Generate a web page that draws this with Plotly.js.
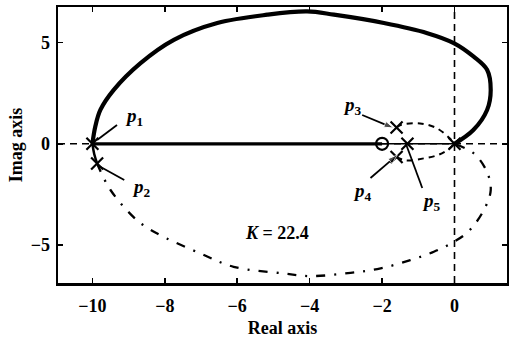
<!DOCTYPE html>
<html>
<head>
<meta charset="utf-8">
<script src="https://cdn.plot.ly/plotly-3.0.1.min.js"></script>
<style>
  html, body { margin: 0; padding: 0; background: #fff; }
  #plot { width: 509px; height: 338px; }
</style>
</head>
<body>
<div id="plot"></div>
<script>
// Root locus branches (real part, imaginary part)
const upperBranchRe = [0, 0.52, 0.9, 1.0, 0.9, 0.53, -0.02, -0.75, -1.95, -3.33, -4.07, -5.17, -6.55, -7.75, -8.67, -9.41, -9.78, -9.92, -10];
const upperBranchIm = [0, 0.68, 1.67, 2.66, 3.65, 4.3, 4.97, 5.46, 5.96, 6.37, 6.53, 6.37, 5.96, 5.13, 3.98, 2.66, 1.67, 0.85, 0];

const lowerBranchRe = [-9.87, -9.5, -8.77, -8.22, -7.02, -6.1, -4.72, -3.98, -2.87, -2.04, -1.22, -0.57, -0.02, 0.4, 0.81, 1.0, 0.9, 0.55, 0];
const lowerBranchIm = [-0.97, -2.28, -3.77, -4.42, -5.41, -6.07, -6.4, -6.53, -6.37, -6.15, -5.74, -5.33, -4.84, -4.3, -3.27, -2.3, -1.4, -0.5, 0];

const startSegRe = [-10, -9.95, -9.87];
const startSegIm = [0, -0.5, -0.97];

const p3LoopRe = [-1.6, -1.45, -0.95, -0.5, -0.15, 0];
const p3LoopIm = [0.8, 0.95, 1.0, 0.78, 0.3, 0];
const p4LoopRe = [-1.6, -1.35, -0.85, -0.45, -0.15, 0];
const p4LoopIm = [-0.65, -0.82, -0.72, -0.55, -0.25, 0];

const realAxisThickRe = [-10, -2];
const realAxisThinRe = [-2, 0];

// Poles and zero
const polesRe = [-10, -9.87, -1.6, -1.6, -1.3, 0];
const polesIm = [0, -0.97, 0.8, -0.65, 0, 0];
const zeroRe = [-2];
const zeroIm = [0];

// Pole labels with their pointer lines (tail -> head)
const poleLabels = ['p1', 'p2', 'p3', 'p4', 'p5'];
const labelTextX = [-8.85, -8.65, -2.83, -2.55, -0.64];
const labelTextY = [1.3, -2.2, 1.85, -2.4, -2.88];
const labelTailX = [-9.32, -9.12, -2.55, -2.32, -0.89];
const labelTailY = [0.93, -1.79, 1.42, -1.69, -2.18];
const labelHeadX = [-9.87, -9.87, -1.68, -1.58, -1.35];
const labelHeadY = [0.19, -1.05, 0.78, -0.55, 0.04];
const labelHasArrow = [false, false, true, true, false];

const gainText = 'K = 22.4';
const gainX = -4.9, gainY = -4.42;

const xTicks = [-10, -8, -6, -4, -2, 0];
const yTicks = [-5, 0, 5];
const xRange = [-10.95, 1.45];
const yRange = [-6.87, 6.75];

const serif = 'Liberation Serif, Times New Roman, serif';

const traces = [
  // dashed coordinate axes
  { x: xRange, y: [0, 0], mode: 'lines', line: { color: '#000', width: 1.6, dash: '7px,5px' }, hoverinfo: 'skip' },
  { x: [0, 0], y: yRange, mode: 'lines', line: { color: '#000', width: 1.6, dash: '7px,5px' }, hoverinfo: 'skip' },
  // real-axis locus
  { x: realAxisThickRe, y: [0, 0], mode: 'lines', line: { color: '#000', width: 3.2 } },
  { x: realAxisThinRe, y: [0, 0], mode: 'lines', line: { color: '#000', width: 1.6 } },
  // main loop
  { x: upperBranchRe, y: upperBranchIm, mode: 'lines', line: { color: '#000', width: 4.2, shape: 'spline', smoothing: 1 } },
  { x: startSegRe, y: startSegIm, mode: 'lines', line: { color: '#000', width: 2.5, shape: 'spline' } },
  { x: lowerBranchRe, y: lowerBranchIm, mode: 'lines', line: { color: '#000', width: 2.3, dash: '9px,9px,2px,9px', shape: 'spline', smoothing: 1 } },
  // complex pole branches
  { x: p3LoopRe, y: p3LoopIm, mode: 'lines', line: { color: '#000', width: 2, dash: '6px,5px', shape: 'spline' } },
  { x: p4LoopRe, y: p4LoopIm, mode: 'lines', line: { color: '#000', width: 2, dash: '6px,5px', shape: 'spline' } },
  // poles and zero
  { x: polesRe, y: polesIm, mode: 'markers', marker: { symbol: 'x-thin-open', size: 12, color: '#000', line: { color: '#000', width: 2.2 } } },
  { x: zeroRe, y: zeroIm, mode: 'markers', marker: { symbol: 'circle-open', size: 12, color: '#000', line: { color: '#000', width: 2.2 } } }
];

// pointer lines from each label to its pole
poleLabels.forEach((lab, i) => {
  traces.push({
    x: [labelTailX[i], labelHeadX[i]], y: [labelTailY[i], labelHeadY[i]],
    mode: labelHasArrow[i] ? 'lines+markers' : 'lines',
    line: { color: '#000', width: 1.8 },
    marker: { symbol: 'arrow', angleref: 'previous', size: [0, 10], color: '#000' },
    hoverinfo: 'skip'
  });
});

const annotations = [];
poleLabels.forEach((lab, i) => {
  annotations.push({
    x: labelTextX[i], y: labelTextY[i], xref: 'x', yref: 'y', showarrow: false,
    text: '<i>' + lab[0] + '</i><sub>' + lab.slice(1) + '</sub>',
    font: { family: serif, size: 19, color: '#000', weight: 'bold' }
  });
});
annotations.push({
  x: gainX, y: gainY, xref: 'x', yref: 'y', showarrow: false,
  text: '<i>K</i>' + gainText.slice(1),
  font: { family: serif, size: 18, color: '#000', weight: 'bold' }
});

const axisCommon = {
  showgrid: false, zeroline: false, showline: true, linecolor: '#000', linewidth: 2.5,
  mirror: 'ticks', ticks: 'inside', ticklen: 5, tickwidth: 1.5, tickcolor: '#000',
  tickfont: { family: serif, size: 18, color: '#000', weight: 'bold' }
};

const layout = {
  width: 509, height: 338,
  margin: { l: 58, r: 2, t: 7, b: 55 },
  paper_bgcolor: '#fff', plot_bgcolor: '#fff',
  showlegend: false,
  xaxis: Object.assign({}, axisCommon, {
    range: xRange, tickvals: xTicks, ticklabelstandoff: 5,
    title: { text: 'Real axis', font: { family: serif, size: 18, color: '#000', weight: 'bold' }, standoff: 8 }
  }),
  yaxis: Object.assign({}, axisCommon, {
    range: yRange, tickvals: yTicks, ticklabelstandoff: 2,
    title: { text: 'Imag axis', font: { family: serif, size: 18, color: '#000', weight: 'bold' }, standoff: 4 }
  }),
  annotations: annotations
};

Plotly.newPlot('plot', traces, layout, { displayModeBar: false, staticPlot: true });
</script>
</body>
</html>
